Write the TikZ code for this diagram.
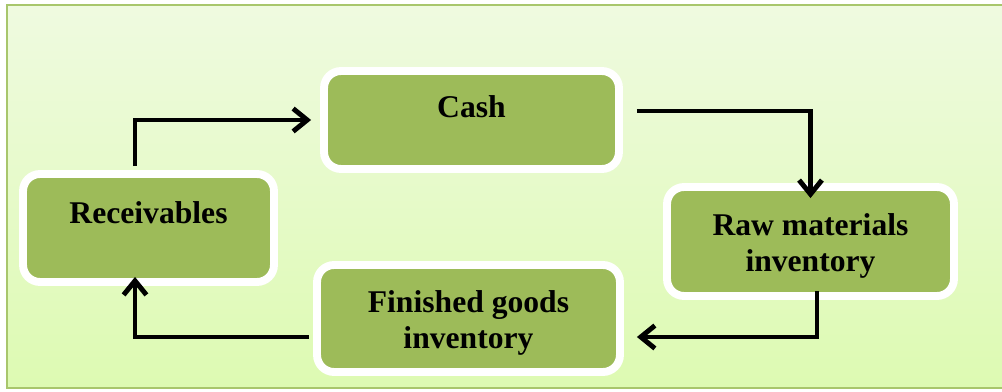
\documentclass[tikz,border=0pt]{standalone}
\usepackage{fontspec}
\setmainfont{Liberation Serif}
\usepackage{tikz}
\usetikzlibrary{arrows.meta,shadows}

\definecolor{boxgreen}{RGB}{157,187,89}
\definecolor{bgtop}{RGB}{239,250,224}
\definecolor{bgbottom}{RGB}{221,250,178}
\definecolor{framegreen}{RGB}{168,198,108}

\begin{document}
\begin{tikzpicture}[x=0.02cm,y=-0.02cm,
                    box/.style={draw=white,line width=4.5pt,fill=boxgreen,
                                rounded corners=0.34cm,align=center,
                                font=\fontsize{18}{20.8}\selectfont\bfseries,
                                drop shadow={shadow xshift=1.2pt,shadow yshift=-1.6pt,opacity=0.3}},
                    flow/.style={line width=2.8pt,line join=miter,
                                 -{Straight Barb[length=8pt,width=13pt]}}]
                              \useasboundingbox (0,0) rectangle (1002,392);

                              % Background
                              \shade[top color=bgtop,bottom color=bgbottom,draw=framegreen,line width=1pt]
                              (7,5) rectangle (1010,388);

                              % Boxes
                              \node[box,minimum width=5.9cm,minimum height=1.96cm,
                                    text height=0.45cm,text depth=0.54cm] (cash) at (471.5,120) {Cash};
                              \node[box,minimum width=5.02cm,minimum height=2.16cm,
                                    text height=0.45cm,text depth=0.64cm] (rec) at (148.5,228) {Receivables};
                              \node[box,minimum width=5.74cm,minimum height=2.18cm,
                                    text height=1.34cm] (raw) at (810.5,241.5)
                              {Raw materials\\inventory};
                              \node[box,minimum width=6.06cm,minimum height=2.14cm,
                                    text height=1.34cm] (fin) at (468.5,318.5)
                              {Finished goods\\inventory};

                              % Arrows
                              \draw[flow] ([xshift=-0.27cm,yshift=0.08cm]rec.north)
                              |- ([xshift=-0.18cm]cash.west);
                              \draw[flow] ([xshift=0.28cm,yshift=0.18cm]cash.east)
                              -| ([yshift=-0.3cm]raw.north);
                              \draw[flow] ([xshift=0.13cm,yshift=0.18cm]raw.south)
                              |- ([xshift=0.26cm,yshift=-0.37cm]fin.east);
                              \draw[flow] ([xshift=-0.08cm,yshift=-0.37cm]fin.west)
                              -| ([xshift=-0.27cm,yshift=0.18cm]rec.south);
                        \end{tikzpicture}
\end{document}
